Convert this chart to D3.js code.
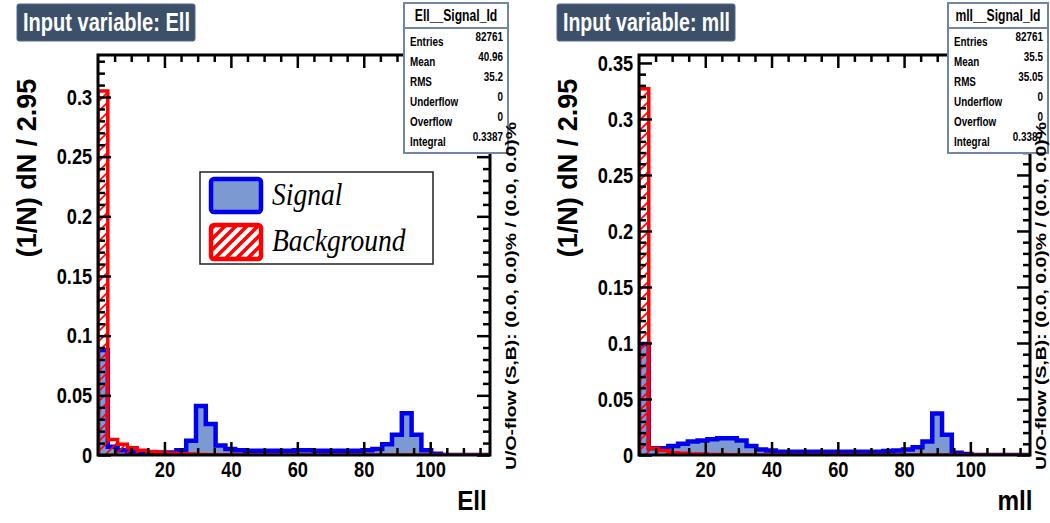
<!DOCTYPE html>
<html><head><meta charset="utf-8">
<script src="https://cdn.jsdelivr.net/npm/d3@7"></script>
<style>body{margin:0;background:#fff}svg{display:block}</style>
</head><body>
<svg id="c" width="1050" height="523"></svg>
<script>
// ---------------- data ----------------
const binWidth = 2.95;
const nBins = 40;
const xDomain = [0, 118];
const xTickValues = [20, 40, 60, 80, 100];
const xTickLabels = ["20", "40", "60", "80", "100"];

const ellSignal = [0.088, 0.007, 0.004, 0.003, 0.002, 0.002, 0.002, 0.002, 0.004, 0.012,
  0.041, 0.026, 0.008, 0.005, 0.004, 0.0035, 0.0035, 0.0035, 0.0035, 0.0035,
  0.004, 0.004, 0.0035, 0.0035, 0.0035, 0.0035, 0.0035, 0.004, 0.005, 0.009,
  0.017, 0.035, 0.017, 0.004, 0.001, 0, 0, 0, 0, 0];
const ellBackground = [0.305, 0.013, 0.009, 0.006, 0.004, 0.003, 0.002, 0.0015, 0.001, 0.0008,
  0.0005, 0.0003, 0.0003, 0.0002, 0.0002, 0.0001, 0.0001, 0.0001, 0.0001, 0.0001,
  0.0001, 0.0001, 0.0001, 0.0001, 0.0001, 0.0001, 0.0001, 0.0001, 0.0001, 0.0001,
  0.0001, 0.0001, 0.0001, 0.0001, 0.0001, 0, 0, 0, 0, 0];
const mllSignal = [0.099, 0.006, 0.006, 0.008, 0.010, 0.012, 0.013, 0.014, 0.015, 0.015,
  0.013, 0.008, 0.005, 0.004, 0.003, 0.003, 0.003, 0.003, 0.003, 0.003,
  0.003, 0.003, 0.003, 0.003, 0.003, 0.0035, 0.004, 0.005, 0.007, 0.012,
  0.037, 0.018, 0.002, 0.001, 0, 0, 0, 0, 0, 0];
const mllBackground = [0.327, 0.006, 0.004, 0.002, 0.0015, 0.001, 0.0008, 0.0005, 0.0004, 0.0003,
  0.0002, 0.0002, 0.0001, 0.0001, 0.0001, 0.0001, 0.0001, 0.0001, 0.0001, 0.0001,
  0.0001, 0.0001, 0.0001, 0.0001, 0.0001, 0.0001, 0.0001, 0.0001, 0.0001, 0.0001,
  0.0001, 0.0001, 0.0001, 0, 0, 0, 0, 0, 0, 0];

const ellYTicks = [0, 0.05, 0.1, 0.15, 0.2, 0.25, 0.3];
const ellYLabels = ["0", "0.05", "0.1", "0.15", "0.2", "0.25", "0.3"];
const mllYTicks = [0, 0.05, 0.1, 0.15, 0.2, 0.25, 0.3, 0.35];
const mllYLabels = ["0", "0.05", "0.1", "0.15", "0.2", "0.25", "0.3", "0.35"];

const statLabels = ["Entries", "Mean", "RMS", "Underflow", "Overflow", "Integral"];
const ellStatValues = ["82761", "40.96", "35.2", "0", "0", "0.3387"];
const mllStatValues = ["82761", "35.5", "35.05", "0", "0", "0.3387"];

const legendLabels = ["Signal", "Background"];
const yTitle = "(1/N) dN / 2.95";
const flowText = "U/O-flow (S,B): (0.0, 0.0)% / (0.0, 0.0)%";

// ---------------- drawing ----------------
const svg = d3.select("#c");
const SANS = "'Liberation Sans', Arial, Helvetica, sans-serif";
const SERIF = "'Liberation Serif', 'Times New Roman', serif";
const BLUE = "#0000ee", FILLBLUE = "#7d99d1", RED = "#ff0000";

const defs = svg.append("defs");
const pat = defs.append("pattern").attr("id", "hatch").attr("patternUnits", "userSpaceOnUse")
  .attr("width", 10).attr("height", 10);
pat.append("path").attr("d", "M-2,12 L12,-2 M-4,4 L4,-4 M6,14 L14,6")
  .attr("stroke", RED).attr("stroke-width", 1.6);
const pat2 = defs.append("pattern").attr("id", "hatchL").attr("patternUnits", "userSpaceOnUse")
  .attr("width", 11).attr("height", 11);
pat2.append("path").attr("d", "M-2,13 L13,-2 M-4,4 L4,-4 M7,15 L15,7")
  .attr("stroke", RED).attr("stroke-width", 3.5);

function cText(parent, str, x, y, opts) {
  const t = parent.append("text")
    .attr("transform", `translate(${x},${y}) scale(${opts.sx || 1},1)`)
    .attr("font-family", opts.family || SANS)
    .attr("font-size", opts.size)
    .attr("font-weight", opts.weight || "bold")
    .attr("font-style", opts.style || "normal")
    .attr("fill", opts.fill || "#000")
    .attr("text-anchor", opts.anchor || "start")
    .text(str);
  return t;
}

function stepPoints(vals) {
  const pts = [[0, 0]];
  vals.forEach((v, i) => { pts.push([i * binWidth, v]); pts.push([(i + 1) * binWidth, v]); });
  pts.push([nBins * binWidth, 0]);
  return pts;
}

function panel(cfg) {
  const g = svg.append("g");
  const x = d3.scaleLinear().domain(xDomain).range([cfg.left, cfg.right]);
  const y = d3.scaleLinear().domain([0, cfg.yMax]).range([cfg.bottom, cfg.top]);
  const clipId = "clip" + cfg.id;
  defs.append("clipPath").attr("id", clipId).append("rect")
    .attr("x", cfg.left).attr("y", cfg.top).attr("width", cfg.right - cfg.left).attr("height", cfg.bottom - cfg.top);
  const line = d3.line().x(d => x(d[0])).y(d => y(d[1])).curve(d3.curveLinear);
  const hg = g.append("g").attr("clip-path", `url(#${clipId})`);
  hg.append("path").attr("d", line(stepPoints(cfg.signal)))
    .attr("fill", FILLBLUE).attr("stroke", BLUE).attr("stroke-width", 4.5).attr("stroke-linejoin", "miter");
  hg.append("path").attr("d", line(stepPoints(cfg.background)))
    .attr("fill", "url(#hatch)").attr("stroke", RED).attr("stroke-width", 3.5).attr("stroke-linejoin", "miter");

  const minorX = d3.range(5, 118, 5).filter(v => !xTickValues.includes(v));
  const minorY = d3.range(0, cfg.yMax, 0.01).filter(v => Math.abs(v / 0.05 - Math.round(v / 0.05)) > 1e-6);

  function styleAxis(sel) {
    sel.select(".domain").remove();
    sel.selectAll(".tick line").attr("stroke", "#000").attr("stroke-width", 2.5);
  }
  // bottom axis
  const bx = g.append("g").attr("transform", `translate(0,${cfg.bottom})`)
    .call(d3.axisBottom(x).tickValues(xTickValues).tickFormat((d, i) => xTickLabels[i])
      .tickSize(-13).tickSizeOuter(0).tickPadding(6));
  styleAxis(bx);
  bx.selectAll(".tick text").attr("font-family", SANS).attr("font-weight", "bold")
    .attr("font-size", 22).attr("fill", "#000").attr("transform", "scale(0.83,1)");
  const bxm = g.append("g").attr("transform", `translate(0,${cfg.bottom})`)
    .call(d3.axisBottom(x).tickValues(minorX).tickFormat("").tickSize(-7).tickSizeOuter(0));
  styleAxis(bxm);
  // top axis
  const tx = g.append("g").attr("transform", `translate(0,${cfg.top})`)
    .call(d3.axisTop(x).tickValues(xTickValues).tickFormat("").tickSize(-13).tickSizeOuter(0));
  styleAxis(tx);
  const txm = g.append("g").attr("transform", `translate(0,${cfg.top})`)
    .call(d3.axisTop(x).tickValues(minorX).tickFormat("").tickSize(-7).tickSizeOuter(0));
  styleAxis(txm);
  // left axis
  const ly = g.append("g").attr("transform", `translate(${cfg.left},0)`)
    .call(d3.axisLeft(y).tickValues(cfg.yTicks).tickFormat((d, i) => cfg.yLabels[i])
      .tickSize(-13).tickSizeOuter(0).tickPadding(7));
  styleAxis(ly);
  ly.selectAll(".tick text").attr("font-family", SANS).attr("font-weight", "bold")
    .attr("font-size", 22).attr("fill", "#000").attr("transform", "scale(0.83,1)");
  const lym = g.append("g").attr("transform", `translate(${cfg.left},0)`)
    .call(d3.axisLeft(y).tickValues(minorY).tickFormat("").tickSize(-7).tickSizeOuter(0));
  styleAxis(lym);
  // right axis
  const ry = g.append("g").attr("transform", `translate(${cfg.right},0)`)
    .call(d3.axisRight(y).tickValues(cfg.yTicks).tickFormat("").tickSize(-13).tickSizeOuter(0));
  styleAxis(ry);
  const rym = g.append("g").attr("transform", `translate(${cfg.right},0)`)
    .call(d3.axisRight(y).tickValues(minorY).tickFormat("").tickSize(-7).tickSizeOuter(0));
  styleAxis(rym);

  // frame
  g.append("rect").attr("x", cfg.left).attr("y", cfg.top)
    .attr("width", cfg.right - cfg.left).attr("height", cfg.bottom - cfg.top)
    .attr("fill", "none").attr("stroke", "#000").attr("stroke-width", 3);

  // axis titles
  g.append("text").attr("transform", `translate(${cfg.yTitleX},${cfg.yTitleY}) rotate(-90)`)
    .attr("font-family", SANS).attr("font-weight", "bold").attr("font-size", 27)
    .attr("text-anchor", "middle").text(yTitle);
  cText(g, cfg.xTitle, cfg.xTitleX, cfg.xTitleY, {size: 27, anchor: "middle", sx: 0.9});

  // legend
  if (cfg.legend) {
    const L = cfg.legend;
    g.append("rect").attr("x", L.x).attr("y", L.y).attr("width", L.w).attr("height", L.h)
      .attr("fill", "#fff").attr("stroke", "#222").attr("stroke-width", 1.5);
    g.append("rect").attr("x", L.x + 11).attr("y", L.y + 7).attr("width", 50).attr("height", 33)
      .attr("rx", 3).attr("fill", FILLBLUE).attr("stroke", BLUE).attr("stroke-width", 4.5);
    g.append("rect").attr("x", L.x + 11).attr("y", L.y + 53).attr("width", 50).attr("height", 34)
      .attr("rx", 3).attr("fill", "url(#hatchL)").attr("stroke", RED).attr("stroke-width", 4.5);
    cText(g, legendLabels[0], L.x + 72, L.y + 33, {family: SERIF, size: 32, weight: "normal", style: "italic", sx: 0.86});
    cText(g, legendLabels[1], L.x + 72, L.y + 79, {family: SERIF, size: 32, weight: "normal", style: "italic", sx: 0.86});
  }

  // stats box
  const S = cfg.stats;
  g.append("rect").attr("x", S.x).attr("y", S.y).attr("width", S.w).attr("height", S.h)
    .attr("fill", "#fff").attr("stroke", "#6f86a6").attr("stroke-width", 2);
  g.append("line").attr("x1", S.x).attr("x2", S.x + S.w).attr("y1", S.y + 25).attr("y2", S.y + 25)
    .attr("stroke", "#6f86a6").attr("stroke-width", 2);
  cText(g, S.title, S.x + S.w / 2, S.y + 18, {size: 16, anchor: "middle", sx: 0.76});
  statLabels.forEach((lab, i) => {
    cText(g, lab, S.x + 6, S.y + 43 + i * 20, {size: 13, sx: 0.76});
    cText(g, S.values[i], S.x + S.w - 5, S.y + 38 + i * 20, {size: 13, anchor: "end", sx: 0.76});
  });

  // under/overflow text
  g.append("text").attr("transform", `translate(${cfg.flowX},${cfg.flowY}) rotate(-90)`)
    .attr("font-family", SANS).attr("font-weight", "bold").attr("font-size", 15)
    .attr("text-anchor", "middle").attr("textLength", 348).attr("lengthAdjust", "spacingAndGlyphs")
    .text(flowText);

  // title box
  const T = cfg.titleBox;
  g.append("rect").attr("x", T.x).attr("y", T.y).attr("width", T.w).attr("height", T.h)
    .attr("rx", 2).attr("fill", "#3d5069").attr("stroke", "#56698a").attr("stroke-width", 1);
  g.append("text").attr("x", T.x + 6).attr("y", T.y + 27)
    .attr("font-family", SANS).attr("font-weight", "bold").attr("font-size", 25).attr("fill", "#fff")
    .attr("textLength", T.w - 11).attr("lengthAdjust", "spacingAndGlyphs").text(T.text);
}

panel({
  id: "L", left: 98, right: 490, top: 55, bottom: 455, yMax: 0.3352,
  signal: ellSignal, background: ellBackground, yTicks: ellYTicks, yLabels: ellYLabels,
  yTitleX: 36, yTitleY: 168, xTitle: "Ell", xTitleX: 472, xTitleY: 510,
  legend: {x: 200, y: 172, w: 233, h: 92},
  stats: {x: 404, y: 3, w: 104, h: 150, title: "Ell__Signal_Id", values: ellStatValues},
  flowX: 516, flowY: 296,
  titleBox: {x: 17, y: 4, w: 178, h: 37, text: "Input variable: Ell"}
});
panel({
  id: "R", left: 639, right: 1030, top: 55, bottom: 455, yMax: 0.3571,
  signal: mllSignal, background: mllBackground, yTicks: mllYTicks, yLabels: mllYLabels,
  yTitleX: 577, yTitleY: 168, xTitle: "mll", xTitleX: 1015, xTitleY: 510,
  legend: null,
  stats: {x: 948, y: 3, w: 100, h: 150, title: "mll__Signal_Id", values: mllStatValues},
  flowX: 1046, flowY: 296,
  titleBox: {x: 557, y: 4, w: 178, h: 37, text: "Input variable: mll"}
});
</script>
</body></html>
